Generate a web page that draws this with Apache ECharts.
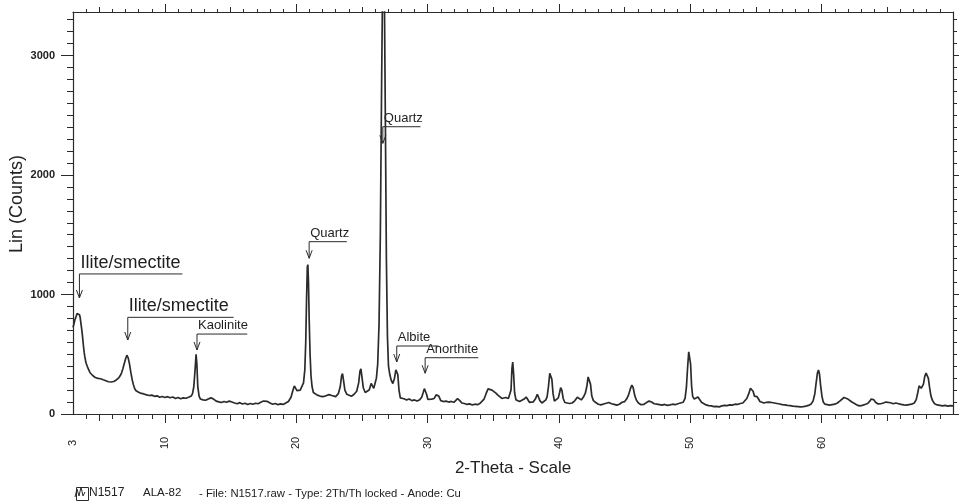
<!DOCTYPE html>
<html><head><meta charset="utf-8">
<script src="https://cdn.jsdelivr.net/npm/echarts@6/dist/echarts.min.js"></script>
<style>html,body{margin:0;padding:0;background:#fff}#c{width:959px;height:503px}</style>
</head><body><div id="c"></div>
<script>
// ---- data ----
const twoTheta = [
 3.00,3.05,3.10,3.15,3.20,3.25,3.30,3.35,3.40,3.45,
 3.50,3.55,3.60,3.65,3.70,3.75,3.80,3.85,3.90,3.95,
 4.00,4.10,4.20,4.30,4.40,4.50,4.60,4.70,4.80,4.90,
 5.00,5.10,5.20,5.30,5.40,5.50,5.60,5.70,5.80,5.90,
 6.00,6.10,6.20,6.30,6.40,6.50,6.60,6.70,6.80,6.90,
 7.00,7.10,7.15,7.20,7.30,7.40,7.50,7.60,7.70,7.80,
 7.90,8.00,8.20,8.40,8.60,8.80,9.00,9.20,9.40,9.60,
 9.80,10.00,10.20,10.40,10.60,10.80,11.00,11.20,11.40,11.60,
 11.80,12.00,12.10,12.20,12.30,12.37,12.43,12.50,12.60,12.70,
 12.90,13.10,13.30,13.50,13.60,13.70,13.90,14.10,14.30,14.50,
 14.70,14.90,15.00,15.10,15.30,15.50,15.70,15.90,16.10,16.30,
 16.50,16.70,16.90,17.10,17.30,17.50,17.65,17.80,18.00,18.20,
 18.40,18.60,18.80,19.00,19.20,19.40,19.60,19.75,19.85,19.95,
 20.05,20.15,20.30,20.45,20.55,20.65,20.72,20.78,20.84,20.88,
 20.93,20.98,21.05,21.12,21.20,21.30,21.45,21.60,21.80,22.00,
 22.20,22.35,22.50,22.60,22.70,22.85,23.00,23.20,23.35,23.45,
 23.52,23.60,23.70,23.85,24.00,24.20,24.40,24.60,24.75,24.85,
 24.92,25.00,25.10,25.25,25.40,25.55,25.70,25.78,25.90,26.00,
 26.10,26.20,26.30,26.40,26.50,26.58,26.64,26.70,26.78,26.86,
 26.94,27.02,27.12,27.22,27.35,27.48,27.58,27.65,27.73,27.82,
 27.92,28.05,28.20,28.40,28.60,28.80,29.00,29.20,29.40,29.55,
 29.65,29.75,29.83,29.92,30.02,30.15,30.30,30.50,30.65,30.75,
 30.85,31.00,31.20,31.40,31.60,31.80,32.00,32.15,32.28,32.36,
 32.45,32.60,32.80,33.00,33.20,33.40,33.60,33.80,34.00,34.15,
 34.30,34.45,34.60,34.75,34.90,35.05,35.20,35.35,35.50,35.65,
 35.80,35.95,36.05,36.15,36.25,36.35,36.42,36.48,36.55,36.62,
 36.72,36.85,37.00,37.15,37.35,37.50,37.60,37.75,37.90,38.05,
 38.20,38.35,38.45,38.55,38.70,38.85,39.00,39.10,39.20,39.30,
 39.38,39.46,39.55,39.65,39.80,39.95,40.05,40.13,40.22,40.32,
 40.45,40.60,40.80,41.00,41.20,41.40,41.55,41.70,41.85,42.00,
 42.12,42.22,42.30,42.40,42.50,42.62,42.80,43.00,43.20,43.40,
 43.60,43.80,44.00,44.20,44.40,44.60,44.80,45.00,45.15,45.30,
 45.45,45.55,45.65,45.78,45.90,46.05,46.25,46.45,46.65,46.85,
 47.05,47.25,47.45,47.65,47.85,48.05,48.25,48.45,48.65,48.85,
 49.05,49.25,49.45,49.60,49.70,49.80,49.88,49.95,50.02,50.10,
 50.18,50.30,50.45,50.58,50.70,50.85,51.00,51.20,51.40,51.60,
 51.80,52.00,52.20,52.40,52.60,52.80,53.00,53.20,53.40,53.60,
 53.80,54.00,54.15,54.30,54.45,54.58,54.68,54.78,54.88,54.98,
 55.08,55.18,55.30,55.45,55.60,55.80,56.00,56.20,56.40,56.60,
 56.80,57.00,57.20,57.40,57.60,57.80,58.00,58.20,58.40,58.60,
 58.80,59.00,59.20,59.35,59.48,59.58,59.68,59.76,59.84,59.92,
 60.02,60.12,60.25,60.40,60.60,60.80,61.00,61.20,61.40,61.55,
 61.70,61.85,62.00,62.15,62.30,62.50,62.70,62.90,63.10,63.30,
 63.50,63.65,63.78,63.88,63.98,64.10,64.30,64.50,64.70,64.90,
 65.05,65.25,65.45,65.65,65.85,66.05,66.25,66.45,66.65,66.85,
 67.05,67.20,67.32,67.42,67.50,67.58,67.66,67.75,67.85,67.95,
 68.03,68.12,68.22,68.32,68.45,68.60,68.80,69.00,69.20,69.40,
 69.60,69.80,70.00
];
const counts = [
 725,745,760,790,805,820,840,835,850,848,
 830,805,760,720,675,620,565,515,480,450,
 425,395,370,345,335,322,318,305,310,298,
 290,295,280,286,272,278,265,270,262,268,
 260,272,270,285,292,305,322,345,380,420,
 460,492,490,470,420,350,290,245,212,195,
 190,182,172,168,160,155,158,148,152,140,
 146,138,145,136,142,130,138,128,135,132,
 140,150,170,230,380,500,420,230,150,125,
 118,115,125,135,140,125,108,102,96,105,
 98,108,112,100,92,86,95,84,90,80,
 88,82,90,86,98,108,118,105,92,82,
 88,78,85,80,92,105,140,200,235,225,
 195,185,200,215,260,370,600,950,1230,1250,
 1100,800,500,320,230,180,165,158,150,145,
 150,140,162,175,155,140,145,170,230,320,
 338,280,200,165,150,148,165,190,260,360,
 378,310,220,180,172,200,255,262,215,230,
 300,420,750,1500,2800,3700,3900,3600,2500,1300,
 650,400,330,285,255,300,370,385,330,200,
 135,125,128,118,125,112,118,108,120,140,
 175,212,210,165,122,118,125,130,160,168,
 150,112,104,108,100,105,98,110,128,132,
 112,92,88,80,85,76,82,78,90,108,
 125,170,210,215,200,190,175,158,145,130,
 122,138,150,130,125,200,380,435,330,180,
 120,108,104,110,125,142,125,98,96,102,
 125,165,150,112,92,100,118,145,230,340,
 352,290,170,108,118,135,180,220,200,130,
 96,92,88,92,110,140,132,118,140,172,
 230,310,326,250,150,112,96,82,76,84,
 90,96,86,80,74,82,98,104,125,160,
 215,242,220,150,115,92,78,80,95,108,
 100,86,82,78,74,80,72,76,82,78,
 86,92,98,130,220,400,520,535,420,230,
 148,125,132,142,128,98,82,76,70,68,
 62,64,60,68,72,70,76,74,82,80,
 88,92,105,130,170,215,228,190,150,140,
 145,128,105,95,92,98,100,96,92,88,
 84,78,76,72,70,66,64,62,60,62,
 66,72,84,110,170,260,345,368,330,240,
 150,100,82,76,74,78,82,92,110,125,
 138,135,125,112,100,88,74,68,72,80,
 88,105,125,132,118,98,84,86,92,100,
 104,94,86,92,86,80,76,74,78,82,
 92,120,180,235,245,215,205,250,315,342,
 345,300,220,150,110,86,76,72,68,72,
 66,70,68
];
const xTickLabels = [3, 10, 20, 30, 40, 50, 60];
const xMajorTicks = [10, 20, 30, 40, 50, 60];
const xMidTicks = [5, 15, 25, 35, 45, 55, 65];
const yTickLabels = [0, 1000, 2000, 3000];

// phase annotations: label, 2θ of arrow, arrow tip (counts), leader line level (counts), leader end 2θ
const annLabels = ['Ilite/smectite', 'Ilite/smectite', 'Kaolinite', 'Quartz', 'Quartz', 'Albite', 'Anorthite'];
const annTheta  = [3.49, 7.17, 12.44, 20.98, 26.59, 27.65, 29.81];
const annTip    = [971, 619, 536, 1303, 2265, 435, 341];
const annLevel  = [1172, 809, 669, 1442, 2404, 569, 471];
const annEnd    = [11.33, 15.23, 16.27, 23.85, 29.46, 30.83, 33.86];

const xMin = 3, xMax = 70, yMin = 0, yMax = 3364;
const xMinorTicks = []; for (let v = xMin + 1; v < xMax; v++) xMinorTicks.push(v);
const yMinorTicks = []; for (let v = 100; v < yMax; v += 100) yMinorTicks.push(v);

// ---- chart ----
const INK = '#2b2b2b';
const FONT = '"Liberation Sans", Arial, sans-serif';
const chart = echarts.init(document.getElementById('c'), null, {renderer: 'canvas'});

function xAx(pos, ticks, len, extra) {
  return Object.assign({
    type: 'value', position: pos, min: xMin, max: xMax,
    axisLine: {show: false, onZero: false, lineStyle: {color: INK, width: 1.2}},
    axisTick: {show: true, customValues: ticks, length: len, inside: false, lineStyle: {color: INK, width: 1}},
    axisLabel: {show: false}, splitLine: {show: false}
  }, extra || {});
}
function yAx(pos, ticks, len, extra) {
  return Object.assign({
    type: 'value', position: pos, min: yMin, max: yMax,
    axisLine: {show: false, onZero: false, lineStyle: {color: INK, width: 1.2}},
    axisTick: {show: true, customValues: ticks, length: len, inside: false, lineStyle: {color: INK, width: 1}},
    axisLabel: {show: false}, splitLine: {show: false}
  }, extra || {});
}

const option = {
  animation: false,
  backgroundColor: '#fff',
  grid: {left: 73, right: 6, top: 12, bottom: 89, containLabel: false, outerBoundsMode: 'none'},
  xAxis: [
    xAx('bottom', xMajorTicks, 9, {
      axisLine: {show: true, onZero: false, lineStyle: {color: INK, width: 1.2}},
      axisLabel: {show: true, customValues: xTickLabels, rotate: 90, margin: 29, align: 'center',
                  verticalAlign: 'middle', fontSize: 11, color: '#222', fontFamily: FONT,
                  formatter: v => String(v)},
      name: '2-Theta - Scale', nameLocation: 'middle', nameGap: 54, nameMoveOverlap: false,
      nameTextStyle: {fontSize: 17, color: '#222', fontFamily: FONT, verticalAlign: 'middle'}
    }),
    xAx('bottom', xMinorTicks, 5),
    xAx('bottom', xMidTicks, 7),
    xAx('top', xMajorTicks, 8, {axisLine: {show: true, onZero: false, lineStyle: {color: INK, width: 1.2}}}),
    xAx('top', xMinorTicks, 3),
    xAx('top', xMidTicks, 5)
  ],
  yAxis: [
    yAx('left', yTickLabels, 12, {
      axisLine: {show: true, onZero: false, lineStyle: {color: INK, width: 1.2}},
      axisLabel: {show: true, customValues: yTickLabels, margin: 18, fontSize: 11, color: '#222',
                  fontFamily: FONT, fontWeight: 'bold', formatter: v => String(v)},
      name: 'Lin (Counts)', nameLocation: 'middle', nameGap: 56, nameMoveOverlap: false,
      nameTextStyle: {fontSize: 18, color: '#222', fontFamily: FONT, verticalAlign: 'middle', padding: [0, 0, 0, 18]}
    }),
    yAx('left', yMinorTicks, 6),
    yAx('right', yMinorTicks, 4, {axisLine: {show: true, onZero: false, lineStyle: {color: INK, width: 1.2}}}),
    yAx('right', yTickLabels, 7)
  ],
  series: [
    {
      type: 'line', xAxisIndex: 0, yAxisIndex: 0,
      data: twoTheta.map((t, i) => [t, counts[i]]),
      showSymbol: false, symbol: 'none', clip: true, sampling: 'none',
      lineStyle: {color: INK, width: 1.7}, silent: true
    },
    {
      type: 'custom', xAxisIndex: 0, yAxisIndex: 0, clip: false, silent: true,
      encode: {x: [0, 3], y: [1, 2]},
      data: annTheta.map((t, i) => [t, annTip[i], annLevel[i], annEnd[i]]),
      renderItem: function (params, api) {
        const i = params.dataIndex;
        const tip = api.coord([api.value(0), api.value(1)]);
        const corner = api.coord([api.value(0), api.value(2)]);
        const end = api.coord([api.value(3), api.value(2)]);
        const big = i < 2;
        return {
          type: 'group',
          children: [
            {type: 'polyline', shape: {points: [tip, corner, end]},
             style: {stroke: INK, lineWidth: 1, fill: null}},
            {type: 'polyline', shape: {points: [[tip[0] - 3, tip[1] - 8], tip, [tip[0] + 3, tip[1] - 8]]},
             style: {stroke: INK, lineWidth: 1, fill: null}},
            {type: 'text', x: corner[0] + 1, y: corner[1] - 2,
             style: {text: annLabels[i], fontSize: big ? 18 : 13, fontFamily: FONT, fill: '#1e1e1e',
                     align: 'left', verticalAlign: 'bottom'}}
          ]
        };
      }
    }
  ],
  graphic: [
    {type: 'rect', left: 74, top: 485, shape: {width: 12, height: 13}, style: {fill: null, stroke: INK, lineWidth: 1}},
    {type: 'polyline', shape: {points: [[75, 497], [77, 489], [79, 496], [81, 487], [83, 496], [85, 492]]},
     style: {fill: null, stroke: INK, lineWidth: 1}},
    {type: 'text', left: 89, top: 487, style: {text: 'N1517', fontSize: 12, fontFamily: FONT, fill: '#222'}},
    {type: 'text', left: 143, top: 487, style: {text: 'ALA-82', fontSize: 11.5, fontFamily: FONT, fill: '#222'}},
    {type: 'text', left: 199, top: 488, style: {text: '- File: N1517.raw - Type: 2Th/Th locked - Anode: Cu', fontSize: 11.3, fontFamily: FONT, fill: '#222'}}
  ]
};
chart.setOption(option);
</script>
</body></html>
